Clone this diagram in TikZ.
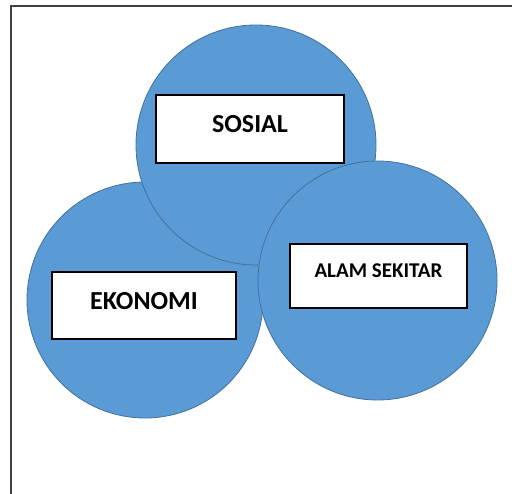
\documentclass[tikz,border=0pt]{standalone}
\usepackage{fontspec}
\setmainfont{Carlito}
\usepackage{xcolor}
\usepackage{tikz}

\definecolor{isibiru}{HTML}{5B9BD5}
\definecolor{garisbiru}{HTML}{41719C}

\begin{document}
\begin{tikzpicture}[x=1pt, y=-1pt,
  bulat/.style={
    circle,
    draw=garisbiru,
    line width=0.8pt,
    fill=isibiru,
    inner sep=0pt,
  },
  kotak/.style={
    rectangle,
    draw=black,
    line width=1.3pt,
    fill=white,
    inner sep=0pt,
    text depth=10pt,
    font=\bfseries\fontsize{26}{30}\selectfont,
  }]

  \useasboundingbox (0,0) rectangle (512,494);

  % bingkai
  \draw[line width=1.6pt, black!75] (11,494) -- (11,6) -- (512,6);

  \node[bulat, minimum size=236pt] (n0) at (145,300) {};
  \node[bulat, minimum size=240pt] (n1) at (256,145) {};
  \node[bulat, minimum size=239pt] (n2) at (377.5,280.5) {};

  \node[kotak, minimum width=188pt, minimum height=68pt] (t1) at (250,129) {SOSIAL};
  \node[kotak, minimum width=184pt, minimum height=67pt] (t0) at (144,305.5) {EKONOMI};
  \node[kotak, minimum width=177pt, minimum height=64pt,
    font=\bfseries\fontsize{21}{25}\selectfont] (t2) at (378.5,276) {ALAM SEKITAR};

\end{tikzpicture}
\end{document}
